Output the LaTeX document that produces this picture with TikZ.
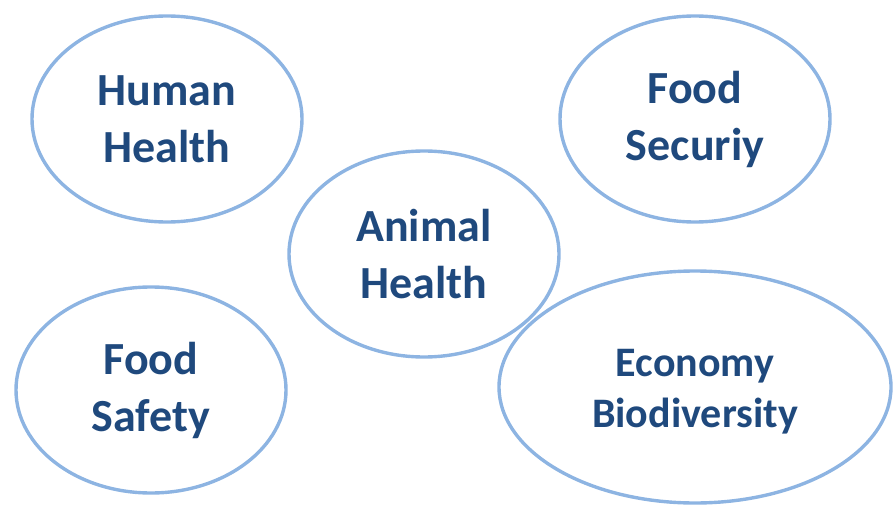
\documentclass[tikz,border=0pt]{standalone}
\usepackage{fontspec}
\setmainfont{Carlito}
\usetikzlibrary{shapes.geometric}
\definecolor{bdx}{HTML}{8DB4E2}
\definecolor{txx}{HTML}{1F497D}
\tikzset{
    oval/.style={ellipse,draw=bdx,line width=3.4pt,align=center,inner sep=0pt,
        minimum width=270pt,minimum height=206pt,text=txx,
        font=\fontsize{46}{57}\selectfont\bfseries},
    ovalw/.style={oval,minimum width=392pt,minimum height=232pt},
    txtw/.style={align=center,inner sep=0pt,text=txx,
        font=\fontsize{42}{51}\selectfont\bfseries}
}

\begin{document}
\begin{tikzpicture}[x=1pt,y=-1pt]
            \useasboundingbox (0,0) rectangle (893,508);
            \node [oval] (human) at (167,119) {Human\\Health};
            \node [oval] (secur) at (695,119) {Food\\Securiy};
            \node [oval] (animal) at (424,254) {Animal\\Health};
            \node [oval] (safety) at (151,390) {Food\\Safety};
            \node [ovalw] (econ) at (695,387) {};
            \node [txtw] (econt) at ([yshift=-5pt]econ.center) {Economy\\Biodiversity};
        \end{tikzpicture}
\end{document}
